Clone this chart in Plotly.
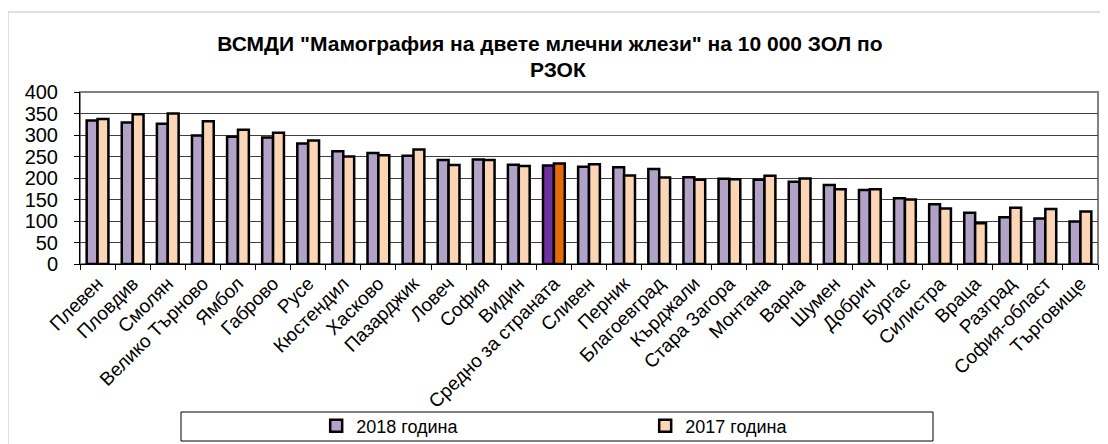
import plotly.graph_objects as go

regions = ["Плевен", "Пловдив", "Смолян", "Велико Търново", "Ямбол", "Габрово", "Русе",
           "Кюстендил", "Хасково", "Пазарджик", "Ловеч", "София", "Видин", "Средно за страната",
           "Сливен", "Перник", "Благоевград", "Кърджали", "Стара Загора", "Монтана", "Варна",
           "Шумен", "Добрич", "Бургас", "Силистра", "Враца", "Разград", "София-област", "Търговище"]
values_2018 = [334, 329, 326, 299, 296, 294, 280, 262, 258, 252, 242, 243, 231, 229,
               226, 225, 221, 202, 198, 196, 191, 184, 172, 153, 139, 119, 109, 106, 99]
values_2017 = [337, 348, 350, 332, 312, 305, 287, 250, 253, 266, 230, 242, 228, 234,
               232, 206, 201, 196, 197, 205, 199, 174, 174, 150, 129, 95, 131, 128, 122]
highlight = "Средно за страната"
title_lines = ['ВСМДИ "Мамография на двете млечни жлези" на 10 000 ЗОЛ по', "РЗОК"]

font = "Liberation Sans, Arial, sans-serif"
c18, c17 = "#B3A2C7", "#FCD5B5"
c18_avg, c17_avg = "#7030A0", "#E36C09"

# the page body has an 8px margin, so the figure is drawn 8px down/right;
# all pixel positions below are in figure coordinates (screen - 8)
fig = go.Figure()
fig.add_trace(go.Bar(x=regions, y=values_2018, name="2018 година",
                     marker_color=[c18_avg if r == highlight else c18 for r in regions],
                     marker_line=dict(color="black", width=2.5)))
fig.add_trace(go.Bar(x=regions, y=values_2017, name="2017 година",
                     marker_color=[c17_avg if r == highlight else c17 for r in regions],
                     marker_line=dict(color="black", width=2.5)))

fig.update_layout(
    width=1108, height=444,
    margin=dict(l=72, r=18, t=84, b=188, autoexpand=False),
    paper_bgcolor="white", plot_bgcolor="white",
    font=dict(family=font, color="black"),
    barmode="group", bargap=0.38, bargroupgap=0,
    title=dict(text=f"<b>{title_lines[0]}</b>",
               x=(550 - 8) / 1108, xref="container", xanchor="center",
               y=1 - 36 / 444, yref="container", yanchor="middle",
               font=dict(size=21, family=font)),
    legend=dict(orientation="h", x=0.232, xanchor="left",
                y=1 - 418 / 444, yref="container", yanchor="middle",
                entrywidth=284, font=dict(size=18), bgcolor="rgba(0,0,0,0)",
                traceorder="normal"),
    showlegend=True,
)
fig.add_annotation(text=f"<b>{title_lines[1]}</b>", showarrow=False,
                   xref="paper", yref="paper", x=(558 - 80) / 1018, y=(264 - 69) / 172,
                   xanchor="center", yanchor="middle", font=dict(size=21, family=font))

fig.update_xaxes(tickangle=-45, tickfont=dict(size=19), tickson="boundaries",
                 ticks="outside", ticklen=5, tickcolor="black",
                 showline=True, linecolor="black", linewidth=1, showgrid=False)
fig.update_yaxes(range=[0, 400], dtick=50, tickfont=dict(size=20),
                 ticks="outside", ticklen=5, tickcolor="black", ticklabelstandoff=12,
                 showline=True, linecolor="black", linewidth=1,
                 showgrid=True, gridcolor="#404040", gridwidth=1, zeroline=False)

# plot-area frame (gray top/right), legend box, outer chart border
fig.add_shape(type="rect", xref="paper", yref="paper", x0=0, x1=1, y0=0, y1=1,
              line=dict(color="#808080", width=2), layer="below")
fig.add_shape(type="rect", xref="paper", yref="paper",
              x0=(181 - 80) / 1018, x1=(933 - 80) / 1018,
              y0=(264 - 441) / 172, y1=(264 - 412) / 172,
              line=dict(color="black", width=1))
fig.add_shape(type="rect", xref="paper", yref="paper",
              x0=(8 - 80) / 1018, x1=(1105 - 80) / 1018,
              y0=-1.3, y1=(264 - 12) / 172,
              line=dict(color="#c0c0c0", width=1))

fig.write_html("out.html")
